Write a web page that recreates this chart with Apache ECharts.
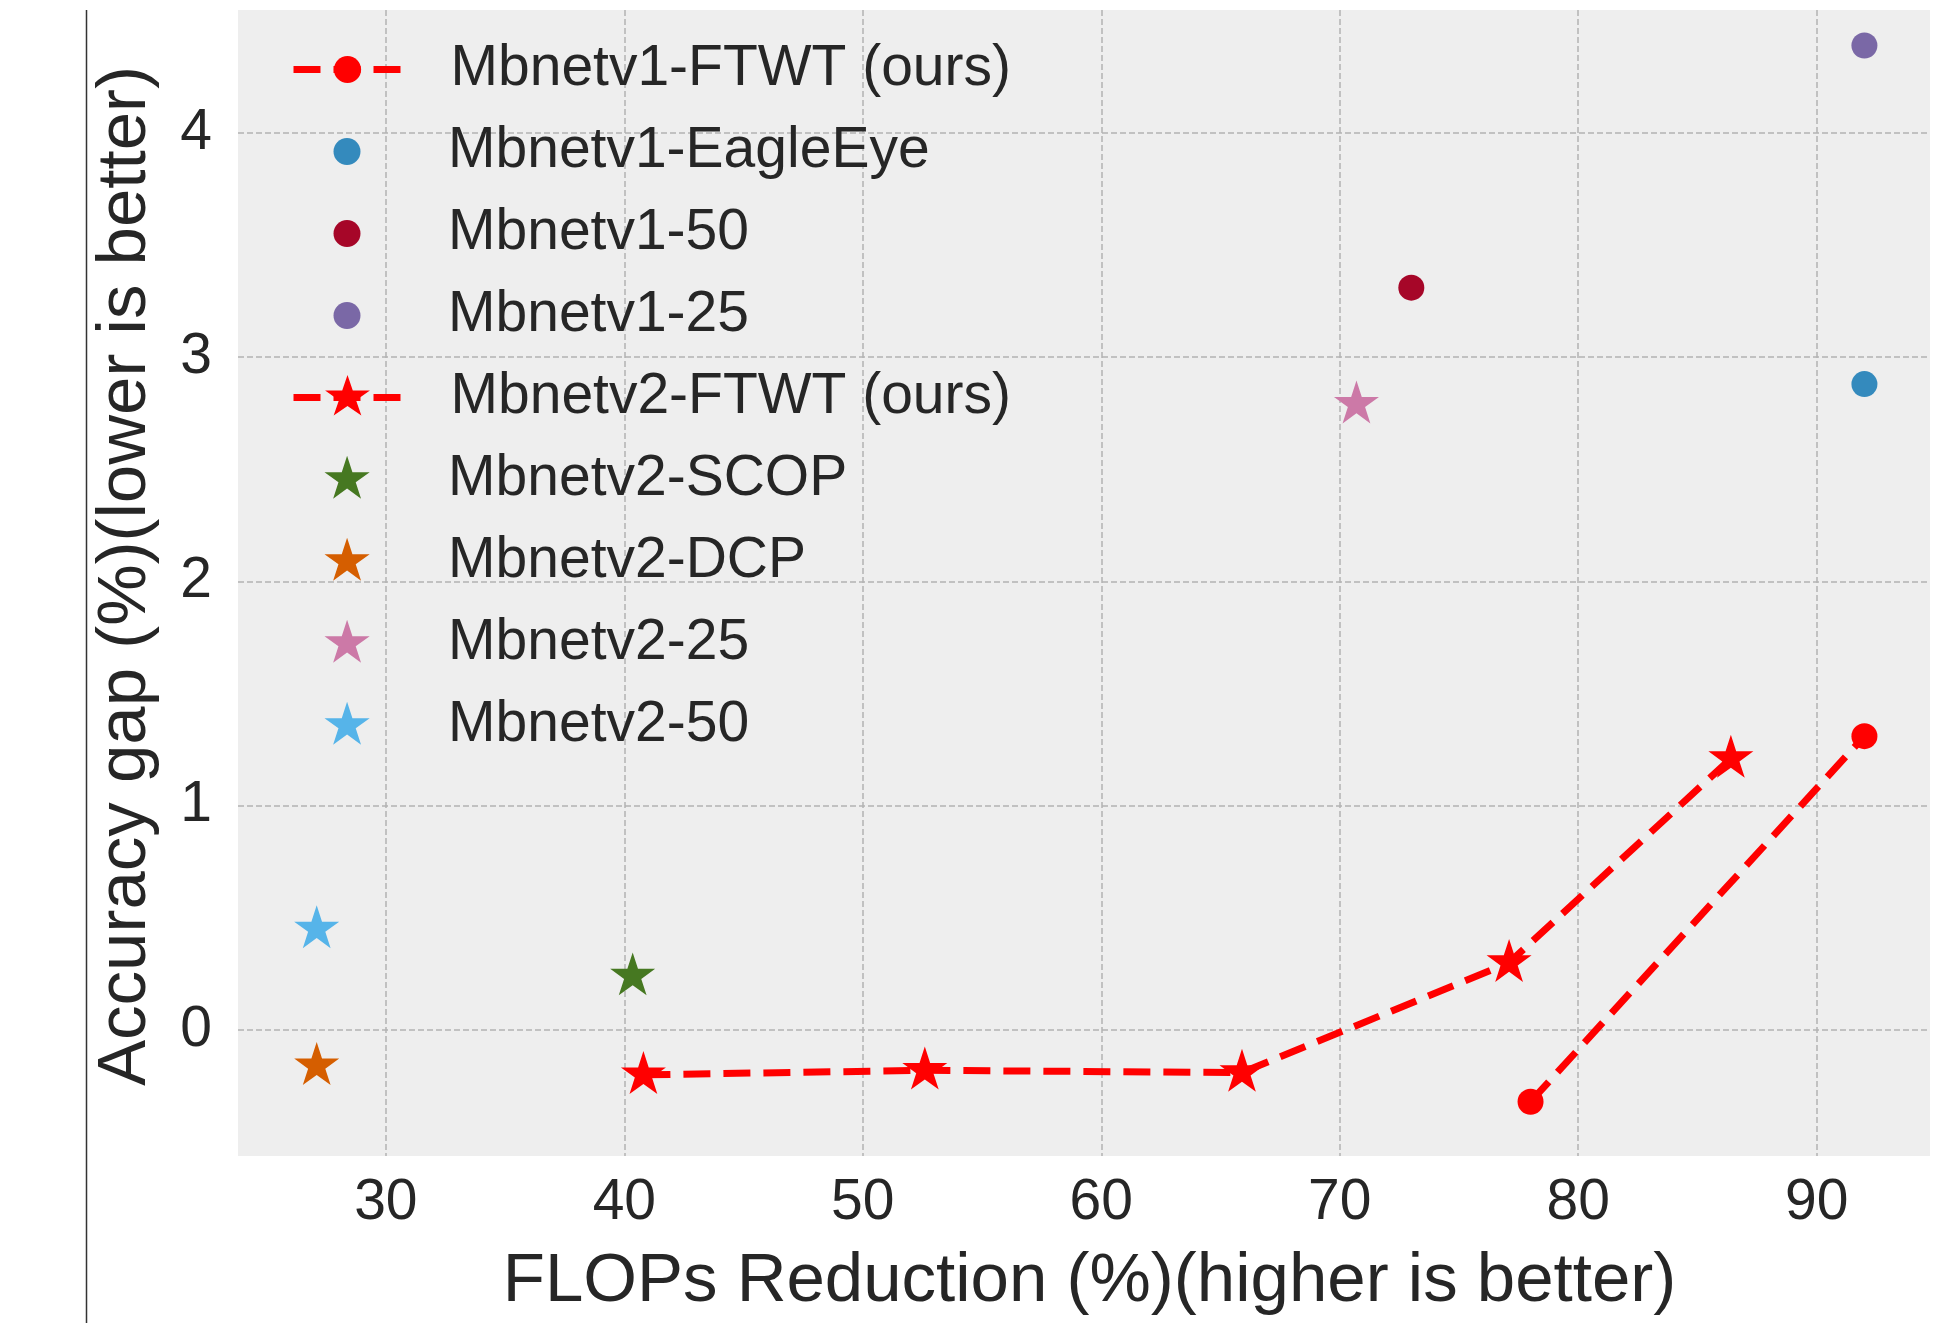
<!DOCTYPE html>
<html><head><meta charset="utf-8">
<script src="https://cdn.jsdelivr.net/npm/echarts@6/dist/echarts.min.js"></script>
<style>html,body{margin:0;padding:0;background:#fff}#c{width:1934px;height:1323px}</style>
</head><body><div id="c"></div>
<script>
// ---- data ----
const xTicks = [30, 40, 50, 60, 70, 80, 90];
const yTicks = [0, 1, 2, 3, 4];
const v1FTWT = [[78.0, -0.32], [92.0, 1.31]];
const v1EagleEye = [[92.0, 2.88]];
const v1_50 = [[73.0, 3.31]];
const v1_25 = [[92.0, 4.39]];
const v2FTWT = [[40.8, -0.20], [52.6, -0.18], [65.9, -0.19], [77.1, 0.30], [86.4, 1.21]];
const v2SCOP = [[40.35, 0.24]];
const v2DCP = [[27.1, -0.16]];
const v2_25 = [[70.7, 2.79]];
const v2_50 = [[27.1, 0.45]];
const seriesNames = ['Mbnetv1-FTWT (ours)', 'Mbnetv1-EagleEye', 'Mbnetv1-50', 'Mbnetv1-25',
  'Mbnetv2-FTWT (ours)', 'Mbnetv2-SCOP', 'Mbnetv2-DCP', 'Mbnetv2-25', 'Mbnetv2-50'];
const seriesColors = ['#ff0000', '#348ABD', '#A60628', '#7A68A6', '#ff0000', '#467821', '#D55E00', '#CC79A7', '#56B4E9'];

const STAR = 'path://M0,100M0,-100L22.45,-30.9L95.11,-30.9L36.33,11.8L58.78,80.9L0,38.2L-58.78,80.9L-36.33,11.8L-95.11,-30.9L-22.45,-30.9Z';
const FONT = 'Liberation Sans';
const TXT = '#262626';
const DASH = [27, 13];
const STAR_SIZE = [45, 47.5];
const DOT = 26;

const chart = echarts.init(document.getElementById('c'), null, {renderer: 'canvas'});

function scatter(i, data, symbol, size) {
  return {name: seriesNames[i], type: 'scatter', data: data, symbol: symbol, symbolSize: size,
    itemStyle: {color: seriesColors[i], opacity: 1}, z: 3};
}
function line(i, data, symbol, size) {
  return {name: seriesNames[i], type: 'line', data: data, symbol: symbol, symbolSize: size, showSymbol: true,
    lineStyle: {color: seriesColors[i], width: 7, type: DASH}, itemStyle: {color: seriesColors[i]}, z: 3};
}

function legend(left, top, names, h, icon, pad) {
  return {left: left, top: top, orient: 'vertical', padding: 0, itemGap: 18, itemWidth: 108, itemHeight: h,
    selectedMode: false,
    textStyle: {fontFamily: FONT, fontSize: 57, lineHeight: 64, color: TXT, padding: [0, 0, 0, pad]},
    lineStyle: {width: 7, type: DASH},
    data: names.map(n => icon ? {name: n, icon: icon} : {name: n})};
}

const option = {
  animation: false,
  backgroundColor: '#ffffff',
  grid: {left: 238, top: 10, right: 4, bottom: 167, show: true, backgroundColor: '#eeeeee', borderWidth: 0},
  xAxis: {
    type: 'value', min: 23.8, max: 94.75, splitNumber: 7,
    name: 'FLOPs Reduction (%)(higher is better)', nameLocation: 'middle', nameGap: 91,
    nameTextStyle: {fontFamily: FONT, fontSize: 69, lineHeight: 69, color: TXT, padding: [0, 0, 0, 11]},
    axisLine: {show: false}, axisTick: {show: false},
    axisLabel: {fontFamily: FONT, fontSize: 57, lineHeight: 57, color: TXT, margin: 19,
      showMinLabel: false, showMaxLabel: false,
      formatter: v => xTicks.includes(v) ? String(v) : ''},
    splitLine: {show: true, showMinLine: false, showMaxLine: false,
      lineStyle: {color: '#b2b2b2', width: 1.5, type: [6, 3]}}
  },
  yAxis: {
    type: 'value', min: -0.562, max: 4.548, splitNumber: 5,
    name: 'Accuracy gap (%)(lower is better)', nameLocation: 'middle', nameGap: 78,
    nameTextStyle: {fontFamily: FONT, fontSize: 69, lineHeight: 69, color: TXT, padding: [0, 0, 0, 14]},
    axisLine: {show: false}, axisTick: {show: false},
    axisLabel: {fontFamily: FONT, fontSize: 57, lineHeight: 57, color: TXT, margin: 26,
      showMinLabel: false, showMaxLabel: false,
      formatter: v => yTicks.includes(v) ? String(v) : ''},
    splitLine: {show: true, showMinLine: false, showMaxLine: false,
      lineStyle: {color: '#b2b2b2', width: 1.5, type: [6, 3]}}
  },
  legend: [
    legend(290, 37.5, [seriesNames[0]], 34, null, 44),
    legend(333.5, 119.5, [seriesNames[1], seriesNames[2], seriesNames[3]], 27, 'circle', 42),
    legend(290, 365.5, [seriesNames[4]], 56, null, 44),
    legend(324.5, 447.5, [seriesNames[5], seriesNames[6], seriesNames[7], seriesNames[8]], 47.5, STAR, 42)
  ],
  graphic: [{type: 'line', shape: {x1: 86.5, y1: 10, x2: 86.5, y2: 1323}, style: {stroke: '#333', lineWidth: 1.5}, silent: true}],
  series: [
    line(0, v1FTWT, 'circle', DOT),
    scatter(1, v1EagleEye, 'circle', DOT),
    scatter(2, v1_50, 'circle', DOT),
    scatter(3, v1_25, 'circle', DOT),
    line(4, v2FTWT, STAR, STAR_SIZE),
    scatter(5, v2SCOP, STAR, STAR_SIZE),
    scatter(6, v2DCP, STAR, STAR_SIZE),
    scatter(7, v2_25, STAR, STAR_SIZE),
    scatter(8, v2_50, STAR, STAR_SIZE)
  ]
};
chart.setOption(option);
</script>
</body></html>
